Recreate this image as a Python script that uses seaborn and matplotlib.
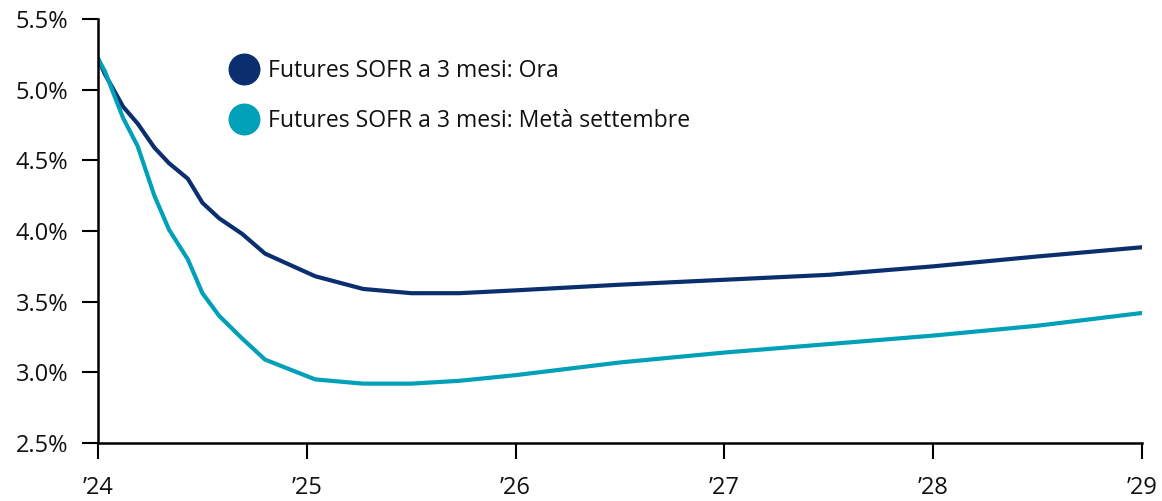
import pandas as pd
import numpy as np
import matplotlib.pyplot as plt
import seaborn as sns
from matplotlib.lines import Line2D

# Data (decimal years, percent)
years = [2024.0, 2024.033, 2024.12, 2024.19, 2024.27, 2024.34, 2024.43, 2024.50,
         2024.58, 2024.69, 2024.80, 2025.04, 2025.27, 2025.50, 2025.73, 2026.0,
         2026.5, 2027.0, 2027.5, 2028.0, 2028.5, 2029.0]
sofr_now = [5.22, 5.11, 4.88, 4.76, 4.59, 4.48, 4.37, 4.20,
            4.09, 3.98, 3.84, 3.68, 3.59, 3.56, 3.56, 3.58,
            3.62, 3.655, 3.69, 3.75, 3.82, 3.885]
sofr_sept = [5.22, 5.13, 4.80, 4.60, 4.25, 4.01, 3.80, 3.56,
             3.40, 3.24, 3.09, 2.95, 2.92, 2.92, 2.94, 2.98,
             3.07, 3.14, 3.20, 3.26, 3.33, 3.42]
series_labels = ["Futures SOFR a 3 mesi: Ora", "Futures SOFR a 3 mesi: Metà settembre"]
colors = ["#0B2F6E", "#00A0B8"]
x_ticks = [2024, 2025, 2026, 2027, 2028, 2029]
x_ticklabels = ["\u201924", "\u201925", "\u201926", "\u201927", "\u201928", "\u201929"]
y_ticks = [2.5, 3.0, 3.5, 4.0, 4.5, 5.0, 5.5]

df = pd.DataFrame({"year": years, "now": sofr_now, "sept": sofr_sept})

sns.set_style("white")
plt.rcParams['font.family'] = ['Open Sans', 'DejaVu Sans']
plt.rcParams['text.color'] = '#111111'

fig = plt.figure(figsize=(11.62, 5.01), dpi=100)
ax = fig.add_axes([98 / 1162, 1 - 443 / 501, 1044 / 1162, 424 / 501])

sns.lineplot(data=df, x="year", y="now", color=colors[0], linewidth=3, ax=ax)
sns.lineplot(data=df, x="year", y="sept", color=colors[1], linewidth=3, ax=ax)

ax.set_xlim(2024, 2029)
ax.set_ylim(2.5, 5.5)
ax.set_xticks(x_ticks)
ax.set_xticklabels(x_ticklabels)
ax.set_yticks(y_ticks)
ax.set_yticklabels([f"{v:.1f}%" for v in y_ticks])
ax.set_xlabel("")
ax.set_ylabel("")

for s in ["top", "right"]:
    ax.spines[s].set_visible(False)
for s in ["left", "bottom"]:
    ax.spines[s].set_linewidth(1.8)
    ax.spines[s].set_color("black")

ax.tick_params(axis="both", which="major", length=11.5, width=1.5, color="black",
               labelsize=17, labelcolor="#111111", direction="out")
ax.tick_params(axis="x", pad=12, bottom=True)
ax.tick_params(axis="y", pad=10, left=True)

handles = [Line2D([], [], marker="o", linestyle="none", markersize=22,
                  markerfacecolor=c, markeredgecolor=c) for c in colors]
ax.legend(handles, series_labels, loc="upper left", bbox_to_anchor=(0.107, 0.955),
          frameon=False, fontsize=16.6, labelspacing=1.15, handletextpad=0.45,
          handlelength=1.2)

fig.savefig("out.png", dpi=100)
